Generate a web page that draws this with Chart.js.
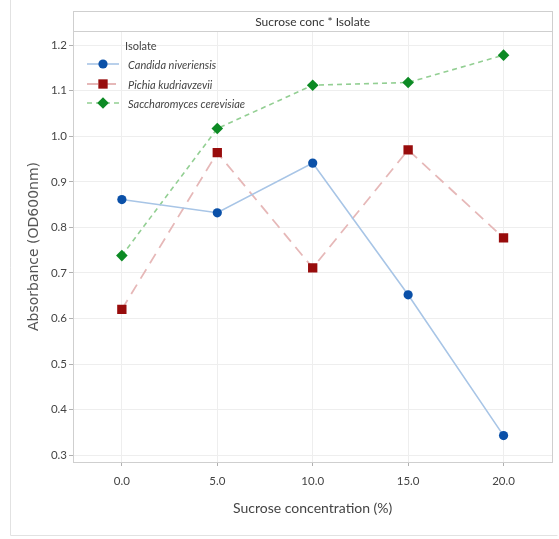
<!DOCTYPE html>
<html>
<head>
<meta charset="utf-8">
<script src="https://cdn.jsdelivr.net/npm/chart.js@4.4.1/dist/chart.umd.min.js"></script>
<style>
html, body { margin: 0; padding: 0; background: #fff; }
#wrap { width: 559px; height: 539px; position: relative; }
</style>
</head>
<body>
<div id="wrap"><canvas id="chart"></canvas></div>
<script>
// values
const sucroseConc = [0, 5, 10, 15, 20]
const candida = [0.861, 0.832, 0.941, 0.652, 0.343]
const pichia = [0.620, 0.964, 0.711, 0.970, 0.777]
const saccharomyces = [0.738, 1.017, 1.112, 1.118, 1.178]
const isolateNames = ["Candida niveriensis", "Pichia kudriavzevii", "Saccharomyces cerevisiae"]
const xTicks = [0, 5, 10, 15, 20]
const yTicks = [0.3, 0.4, 0.5, 0.6, 0.7, 0.8, 0.9, 1.0, 1.1, 1.2]

const toPoints = function(ys){
    return sucroseConc.map((x, i) => ({x: x, y: ys[i]}))
}

const TITLE_TOP = 11

const panelPlugin = {
    id: "panel",
    beforeDraw(chart){
        const ctx = chart.ctx
        ctx.save()
        ctx.fillStyle = "#fff"
        ctx.fillRect(0, 0, chart.width, chart.height)
        // outer frame
        ctx.strokeStyle = "#e2e2e2"
        ctx.lineWidth = 1
        ctx.beginPath()
        ctx.moveTo(10.5, 0)
        ctx.lineTo(10.5, 535.5)
        ctx.lineTo(557.5, 535.5)
        ctx.stroke()
        ctx.restore()
    },
    afterDatasetsDraw(chart){
        const ctx = chart.ctx
        const a = chart.chartArea
        ctx.save()
        // title strip
        ctx.fillStyle = "#fff"
        ctx.fillRect(a.left, TITLE_TOP, a.right - a.left, a.top - TITLE_TOP)
        ctx.strokeStyle = "#cfcfcf"
        ctx.lineWidth = 1
        ctx.strokeRect(Math.round(a.left) + 0.5, TITLE_TOP + 0.5, Math.round(a.right - a.left), Math.round(a.bottom - TITLE_TOP))
        ctx.beginPath()
        ctx.moveTo(a.left, Math.round(a.top) + 0.5)
        ctx.lineTo(a.right, Math.round(a.top) + 0.5)
        ctx.stroke()
        ctx.fillStyle = "#333"
        ctx.font = "12px Lato"
        ctx.textAlign = "center"
        ctx.textBaseline = "middle"
        ctx.fillText("Sucrose conc * Isolate", (a.left + a.right) / 2, (TITLE_TOP + a.top) / 2 + 1)

        // legend
        ctx.textAlign = "left"
        ctx.fillStyle = "#444"
        ctx.font = "11px Lato"
        ctx.fillText("Isolate", 125, 46)
        const rows = [64, 84, 103]
        chart.data.datasets.forEach((ds, i) => {
            const y = rows[i]
            ctx.save()
            ctx.strokeStyle = ds.borderColor
            ctx.lineWidth = ds.borderWidth
            ctx.setLineDash(ds.borderDash || [])
            ctx.beginPath()
            ctx.moveTo(87, y)
            ctx.lineTo(119, y)
            ctx.stroke()
            ctx.restore()
            ctx.fillStyle = ds.pointBackgroundColor
            ctx.strokeStyle = ds.pointBorderColor
            Chart.helpers.drawPoint(ctx, {pointStyle: ds.pointStyle, radius: ds.pointRadius, borderWidth: 0}, 103, y)
            ctx.fillStyle = "#444"
            ctx.font = "italic 11px Lato"
            ctx.fillText(ds.label, 128, y + 1)
        })
        ctx.restore()
    }
}

const ctx = document.getElementById("chart").getContext("2d")
const myChart = new Chart(ctx, {
    type: "line",
    data: {
        datasets: [{
            label: isolateNames[0],
            data: toPoints(candida),
            borderColor: "#a8c5e6",
            borderWidth: 1.6,
            pointStyle: "circle",
            pointRadius: 4.6,
            pointBackgroundColor: "#0a50a8",
            pointBorderColor: "#0a50a8",
            pointBorderWidth: 0
        }, {
            label: isolateNames[1],
            data: toPoints(pichia),
            borderColor: "#e6b8b8",
            borderWidth: 1.8,
            borderDash: [11, 7],
            pointStyle: "rect",
            pointRadius: 6.6,
            pointBackgroundColor: "#980c0c",
            pointBorderColor: "#980c0c",
            pointBorderWidth: 0
        }, {
            label: isolateNames[2],
            data: toPoints(saccharomyces),
            borderColor: "#93cf93",
            borderWidth: 1.6,
            borderDash: [5, 4],
            pointStyle: "rectRot",
            pointRadius: 5.8,
            pointBackgroundColor: "#0c8a24",
            pointBorderColor: "#0c8a24",
            pointBorderWidth: 0
        }]
    },
    options: {
        responsive: true,
        maintainAspectRatio: false,
        animation: false,
        layout: {padding: {left: 0, top: 31, right: 5, bottom: 0}},
        plugins: {
            legend: {display: false},
            tooltip: {enabled: false}
        },
        scales: {
            x: {
                type: "linear",
                min: -2.56,
                max: 22.56,
                afterBuildTicks: (scale) => { scale.ticks = xTicks.map(v => ({value: v})) },
                afterFit: (scale) => { scale.height = 77 },
                ticks: {
                    color: "#444",
                    font: {family: "Lato", size: 11.5},
                    padding: 8,
                    callback: (v) => Number(v).toFixed(1)
                },
                grid: {color: "#eeeeee", tickColor: "#b0b0b0", tickLength: 4},
                border: {display: false},
                title: {
                    display: true,
                    text: "Sucrose concentration (%)",
                    color: "#444",
                    font: {family: "Lato", size: 14},
                    padding: {top: 0, bottom: 22}
                }
            },
            y: {
                min: 0.285,
                max: 1.231,
                afterBuildTicks: (scale) => { scale.ticks = yTicks.map(v => ({value: v})) },
                afterFit: (scale) => { scale.width = 73 },
                ticks: {
                    color: "#444",
                    font: {family: "Lato", size: 11.5},
                    padding: 2,
                    callback: (v) => Number(v).toFixed(1)
                },
                grid: {color: "#eeeeee", tickColor: "#b0b0b0", tickLength: 4},
                border: {display: false},
                title: {
                    display: true,
                    text: "Absorbance (OD600nm)",
                    color: "#555",
                    font: {family: "DejaVu Sans", size: 14},
                    padding: {top: 26, bottom: 0}
                }
            }
        }
    },
    plugins: [panelPlugin]
})
</script>
</body>
</html>
